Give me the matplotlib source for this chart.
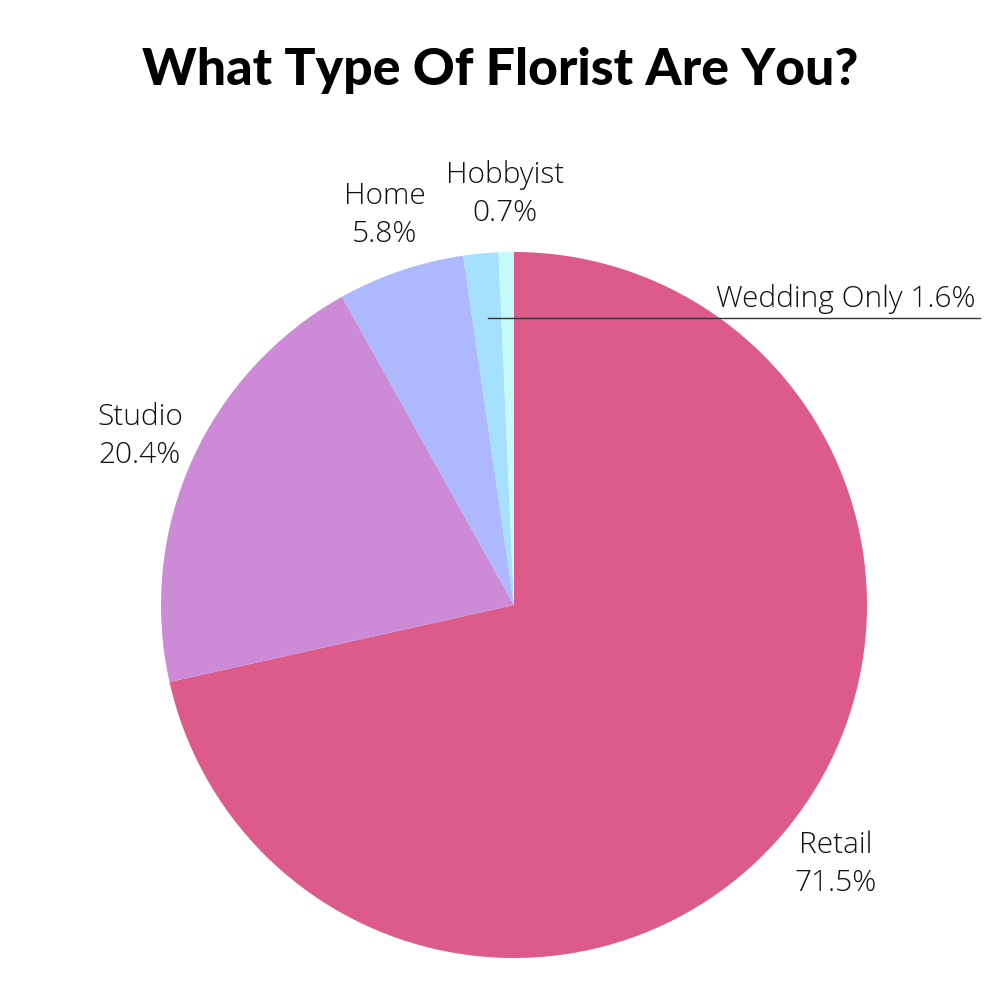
import matplotlib.pyplot as plt
import numpy as np

# florist types, clockwise from the top
labels = ['Retail', 'Studio', 'Home', 'Wedding Only', 'Hobbyist']
shares = [71.5, 20.4, 5.8, 1.6, 0.7]
colors = ['#DD5B8A', '#CD8AD6', '#ADB8FF', '#A6E0FF', '#C4FAFA']

plt.rcParams['font.family'] = ['Open Sans', 'DejaVu Sans']

fig = plt.figure(figsize=(10, 10), dpi=100)
ax = fig.add_axes([0, 0, 1, 1])

cx, cy, r = 514, 395, 353
wedges, _ = ax.pie(shares, colors=colors, startangle=90, counterclock=False,
                   center=(cx, cy), radius=r, frame=True,
                   wedgeprops=dict(linewidth=0))
ax.set_xlim(0, 1000)
ax.set_ylim(0, 1000)
ax.set_aspect('equal')
ax.axis('off')

# label positions (pixels, y from top)
pos = {'Retail': (836, 864), 'Studio': (140, 436), 'Home': (385, 215), 'Hobbyist': (505, 194)}
for name, val in zip(labels, shares):
    if name in pos:
        x, y = pos[name]
        ax.text(x, 1000 - y, f'{name}\n{val}%', ha='center', va='center',
                fontsize=21.5, fontweight='light', color='#111111', linespacing=1.38)

# wedding only callout
ax.plot([488, 980], [1000 - 318, 1000 - 318], color='#333333', lw=1)
ax.text(976, 1000 - 314, f'{labels[3]} {shares[3]}%', ha='right', va='bottom',
        fontsize=21.5, fontweight='light', color='#111111')

fig.text(0.5, 1 - 70 / 1000, 'What Type Of Florist Are You?', ha='center', va='center',
         fontsize=37.3, fontweight='black', family=['Lato', 'DejaVu Sans'], color='black')

fig.savefig('out.png', dpi=100, facecolor='white')
